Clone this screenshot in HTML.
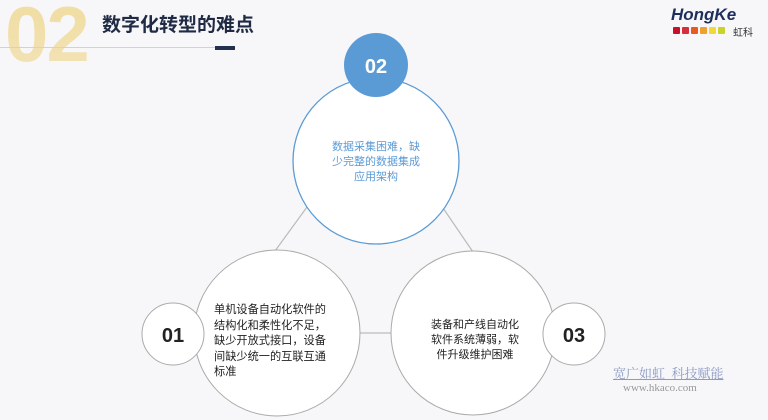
<!DOCTYPE html>
<html><head><meta charset="utf-8"><style>
body{margin:0;width:768px;height:420px;background:#f7f7f9;overflow:hidden;position:relative;font-family:"Liberation Sans","Noto Sans CJK SC",sans-serif}
.a{position:absolute}
</style></head><body>
<div class="a" style="left:5px;top:-11px;font-size:78px;font-weight:bold;letter-spacing:-2px;line-height:90px;background:linear-gradient(#f0dc9e,#f3e3b8);-webkit-background-clip:text;color:transparent">02</div>
<div class="a" style="left:0;top:47px;width:215px;height:1px;background:#cfd2dc"></div>
<div class="a" style="left:215px;top:46px;width:20px;height:4px;background:#24304f"></div>
<div class="a" style="left:102px;top:10px;font-size:19px;font-weight:bold;color:#1f2a44">数字化转型的难点</div>
<div class="a" style="left:671px;top:5px;font-size:17px;font-weight:bold;font-style:italic;color:#1f2f5c">HongKe</div>
<div class="a" style="left:673px;top:27px;display:flex;gap:2px">
<span style="width:7px;height:7px;background:#c8102e;border-radius:1px"></span><span style="width:7px;height:7px;background:#d42f3a;border-radius:1px"></span><span style="width:7px;height:7px;background:#e85a1e;border-radius:1px"></span><span style="width:7px;height:7px;background:#f0a030;border-radius:1px"></span><span style="width:7px;height:7px;background:#f3d83a;border-radius:1px"></span><span style="width:7px;height:7px;background:#c8d42a;border-radius:1px"></span></div>
<div class="a" style="left:733px;top:24px;font-size:10px;color:#333">虹科</div>
<svg class="a" style="left:0;top:0" width="768" height="420">
<line x1="307" y1="207" x2="275" y2="251" stroke="#bbb" stroke-width="1.2"/>
<line x1="443" y1="208" x2="473" y2="252" stroke="#bbb" stroke-width="1.2"/>
<line x1="355" y1="333" x2="395" y2="333" stroke="#bbb" stroke-width="1.2"/>
<circle cx="376" cy="161" r="83" fill="#fff" stroke="#5b9bd5" stroke-width="1.3"/>
<circle cx="376" cy="65" r="32" fill="#5b9bd5"/>
<circle cx="277" cy="333" r="83" fill="#fff" stroke="#aaa" stroke-width="1"/>
<circle cx="173" cy="334" r="31" fill="#fff" stroke="#aaa" stroke-width="1"/>
<circle cx="473" cy="333" r="82" fill="#fff" stroke="#aaa" stroke-width="1"/>
<circle cx="574" cy="334" r="31" fill="#fff" stroke="#aaa" stroke-width="1"/>
<text x="376" y="73" text-anchor="middle" font-size="20" font-weight="bold" fill="#fff" font-family="Liberation Sans,sans-serif">02</text>
<text x="173" y="342" text-anchor="middle" font-size="20" font-weight="bold" fill="#222" font-family="Liberation Sans,sans-serif">01</text>
<text x="574" y="342" text-anchor="middle" font-size="20" font-weight="bold" fill="#222" font-family="Liberation Sans,sans-serif">03</text>
</svg>
<div class="a" style="left:328px;top:140px;width:96px;text-align:center;font-size:11px;line-height:15px;color:#5b9bd5">数据采集困难，缺<br>少完整的数据集成<br>应用架构</div>
<div class="a" style="left:214px;top:303px;width:124px;font-size:11.2px;line-height:15.5px;color:#222">单机设备自动化软件的<br>结构化和柔性化不足，<br>缺少开放式接口，设备<br>间缺少统一的互联互通<br>标准</div>
<div class="a" style="left:420px;top:318px;width:110px;text-align:center;font-size:11px;line-height:15px;color:#222">装备和产线自动化<br>软件系统薄弱，软<br>件升级维护困难</div>
<div class="a" style="left:613px;top:363px;font-size:13px;color:#8c9ac4;text-decoration:underline;font-family:'Liberation Serif','Noto Serif CJK SC',serif">宽广如虹&nbsp;&nbsp;科技赋能</div>
<div class="a" style="left:623px;top:382px;font-size:11px;color:#999;font-family:'Liberation Serif',serif">www.hkaco.com</div>
</body></html>
